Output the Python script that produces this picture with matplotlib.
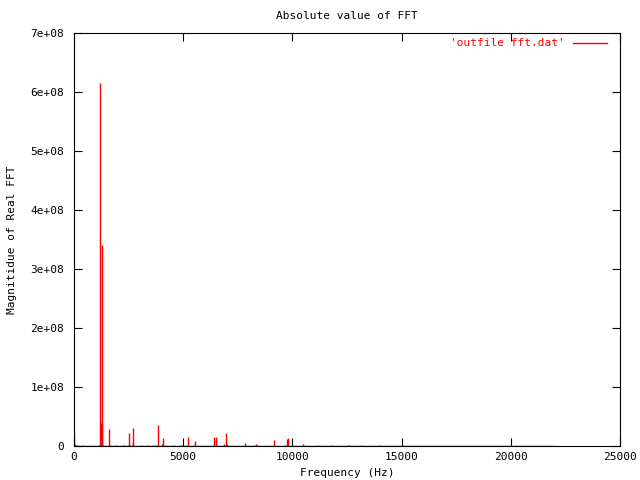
import matplotlib
matplotlib.use("Agg")
import matplotlib.pyplot as plt

# Picos del espectro (frecuencia en Hz, magnitud)
frecuencias = [0, 30, 60, 120, 420, 1150, 1180, 1206, 1230, 1260, 1298, 1320,
               1620, 1640, 1940, 2250, 2300, 2470, 2537, 2580, 2680, 2720,
               3060, 3365, 3600, 3760, 3830, 3867, 4050, 4096, 4150,
               4520, 4900, 5140, 5198, 5480, 5519, 6420, 6482, 6520,
               6860, 6940, 7000, 7814, 7850, 8260, 8333, 8380, 9145,
               9700, 9740, 9786, 10472, 11177, 11820, 12555, 12600,
               13150, 13990, 15780, 17100]
magnitudes = [2.4e7, 4e6, 1.5e6, 1e6, 1.5e6, 1.5e6, 2.5e6, 6.16e8, 3.9e7,
              3.8e7, 3.41e8, 2e6, 2.8e7, 2e6, 1.5e6, 1.5e6, 1.5e6, 2e6,
              2.25e7, 2e6, 6e6, 3.05e7, 2e6, 1e6, 1.5e6, 2e6, 2e6, 3.56e7,
              3e6, 1.4e7, 2e6, 1.5e6, 2e6, 2e6, 1.5e7, 2.5e6, 8.5e6,
              1.5e7, 1.5e7, 1e7, 3e6, 2.2e7, 3e6, 5e6, 1.5e6, 2e6, 3e6,
              2.5e6, 1e7, 1.5e6, 1.2e7, 1.4e7, 3e6, 1.2e6, 1.2e6, 1.5e6,
              1e6, 1e6, 1e6, 8e5, 8e5]
frec_max = 22050

xticks = [0, 5000, 10000, 15000, 20000, 25000]
yticks = [0, 1e8, 2e8, 3e8, 4e8, 5e8, 6e8, 7e8]
ytick_labels = ["0", "1e+08", "2e+08", "3e+08", "4e+08", "5e+08", "6e+08", "7e+08"]

plt.rcParams['font.family'] = ['DejaVu Sans Mono']
plt.rcParams['font.size'] = 8.0

fig = plt.figure(figsize=(6.4, 4.8), dpi=100)
ax = fig.add_axes([74 / 640, 34 / 480, 546 / 640, 413 / 480])

rojo = '#ff0000'
ax.vlines(frecuencias, 0, magnitudes, color=rojo, linewidth=1.0)
ax.hlines(0, 0, frec_max, color=rojo, linewidth=1.0, zorder=3)

ax.set_xlim(0, 25000)
ax.set_ylim(0, 7e8)
ax.set_xticks(xticks)
ax.set_xticklabels([str(t) for t in xticks])
ax.set_yticks(yticks)
ax.set_yticklabels(ytick_labels)
ax.tick_params(direction='in', length=6, width=0.8, top=True, right=True,
               colors='black')
ax.tick_params(axis='y', pad=7)
ax.tick_params(axis='x', pad=4)
for s in ax.spines.values():
    s.set_linewidth(0.8)

ax.set_title("Absolute value of FFT", fontsize=8.0, pad=10)
ax.set_xlabel("Frequency (Hz)", va='center')
ax.xaxis.set_label_coords(0.5, (446 - 473) / 413)
ax.set_ylabel("Magnitidue of Real FFT", va='center')
ax.yaxis.set_label_coords((12 - 74) / 546, 0.5)

# Leyenda al estilo gnuplot
fig.text(565 / 640, 1 - 43 / 480, "'outfile fft.dat'", color=rojo,
         ha='right', va='center')
fig.add_artist(plt.Line2D([573 / 640, 607 / 640], [1 - 43 / 480, 1 - 43 / 480],
                          color=rojo, linewidth=1.0))

plt.savefig("out.png", dpi=100)
